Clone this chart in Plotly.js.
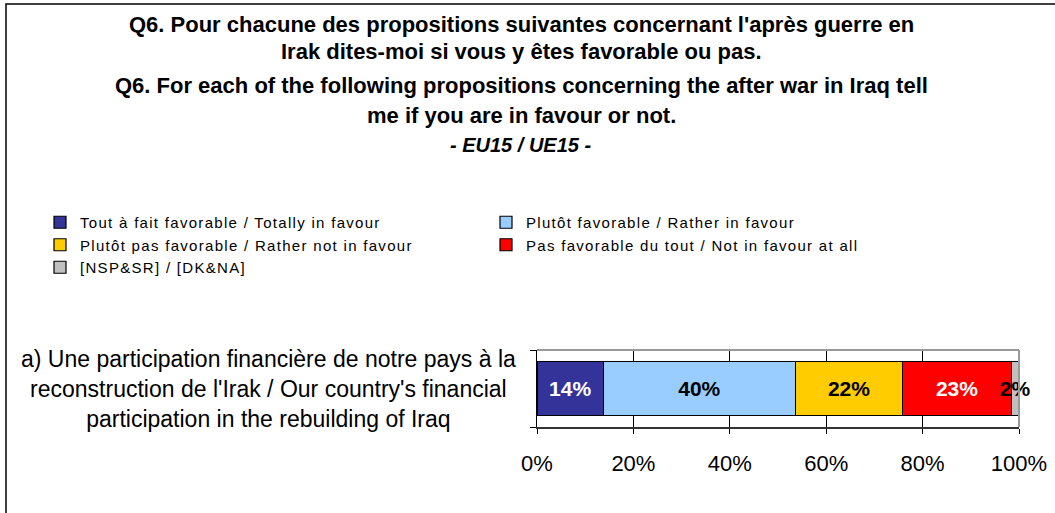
<!DOCTYPE html>
<html>
<head>
<meta charset="utf-8">
<script src="https://cdn.plot.ly/plotly-3.0.1.min.js"></script>
<style>
html,body{margin:0;padding:0;background:#fff;}
#chart{width:1055px;height:513px;}
#chart .legendtext{letter-spacing:1.3px;}
</style>
</head>
<body>
<div id="chart"></div>
<script>
const categories = ["a) Une participation financière de notre pays à la<br>reconstruction de l'Irak / Our country's financial<br>participation in the rebuilding of Iraq"];
const seriesNames = [
  "Tout à fait favorable / Totally in favour",
  "Plutôt favorable / Rather in favour",
  "Plutôt pas favorable / Rather not in favour",
  "Pas favorable du tout / Not in favour at all",
  "[NSP&SR] / [DK&NA]"
];
const seriesValues = [13.8, 39.8, 22.3, 22.5, 1.6];
const seriesLabels = ["14%", "40%", "22%", "23%", "2%"];
const seriesColors = ["#333399", "#99CCFF", "#FFCC00", "#FF0000", "#C0C0C0"];
const labelColors = ["#FFFFFF", "#000000", "#000000", "#FFFFFF", "#000000"];
const xTickVals = [0, 20, 40, 60, 80, 100];
const xTickText = ["0%", "20%", "40%", "60%", "80%", "100%"];
const titleLines = [
  "Q6. Pour chacune des propositions suivantes concernant l'après guerre en",
  "Irak dites-moi si vous y êtes favorable ou pas.",
  "Q6. For each of the following propositions concerning the after war in Iraq tell",
  "me if you are in favour or not.",
  "<i>- EU15 / UE15 -</i>"
];

// plot area geometry (pixels)
const L = 537, R = 1019, T = 350, B = 427;
const px = x => (x - L) / (R - L);
const py = y => (B - y) / (B - T);

const FONT = "Liberation Sans, Arial, sans-serif";

const traces = seriesNames.map((n, i) => ({
  type: "bar",
  orientation: "h",
  name: n,
  y: categories,
  x: [seriesValues[i]],
  text: [seriesLabels[i]],
  textposition: "inside",
  insidetextanchor: "middle",
  textangle: 0,
  constraintext: "none",
  cliponaxis: false,
  textfont: {family: FONT, size: 21, color: labelColors[i], weight: "bold"},
  marker: {color: seriesColors[i], line: {color: "#000", width: 1.2}},
  hoverinfo: "skip"
}));

const titleY = [24, 51, 85, 116, 145];
const annotations = titleLines.map((t, i) => ({
  xref: "paper", yref: "paper",
  x: px(521), y: py(titleY[i]),
  xanchor: "center", yanchor: "middle",
  text: "<b>" + t + "</b>",
  showarrow: false,
  font: {family: FONT, size: i === 4 ? 20 : 22, color: "#000"}
}));
annotations.push({
  xref: "paper", yref: "y",
  x: px(268), y: 0,
  xanchor: "center", yanchor: "middle",
  text: categories[0],
  align: "center",
  showarrow: false,
  font: {family: FONT, size: 23, color: "#000"}
});

const layout = {
  width: 1055, height: 513,
  margin: {l: L, r: 1055 - R, t: T, b: 513 - B, pad: 0},
  paper_bgcolor: "#fff",
  plot_bgcolor: "#fff",
  barmode: "stack",
  bargap: 0.29,
  showlegend: true,
  legend: {
    orientation: "h",
    x: px(40), y: py(206),
    xanchor: "left", yanchor: "top",
    entrywidth: 401, entrywidthmode: "pixels",
    traceorder: "normal",
    font: {family: FONT, size: 15, color: "#000"},
    bgcolor: "rgba(0,0,0,0)"
  },
  xaxis: {
    range: [0, 100],
    tickvals: xTickVals,
    ticktext: xTickText,
    showgrid: true, gridcolor: "#000", gridwidth: 1,
    zeroline: false,
    showline: true, linecolor: "#333", linewidth: 1.5,
    ticks: "outside", ticklen: 5, tickcolor: "#000",
    ticklabelstandoff: 11,
    tickfont: {family: FONT, size: 22, color: "#000"},
    fixedrange: true
  },
  yaxis: {
    type: "category",
    range: [-0.5, 0.5],
    tickson: "boundaries",
    ticks: "outside", ticklen: 6, tickcolor: "#000",
    showticklabels: false,
    showline: true, linecolor: "#000", linewidth: 1,
    showgrid: false, zeroline: false,
    fixedrange: true
  },
  annotations: annotations,
  shapes: [
    {type: "line", xref: "paper", yref: "paper", x0: 0, x1: 1, y0: 1, y1: 1, line: {color: "#999", width: 2}},
    {type: "line", xref: "paper", yref: "paper", x0: 1, x1: 1, y0: 0, y1: 1, line: {color: "#999", width: 2}},
    {type: "rect", xref: "paper", yref: "paper", x0: px(6), x1: px(1065), y0: py(4), y1: py(530), line: {color: "#000", width: 1.5}, fillcolor: "rgba(0,0,0,0)"}
  ]
};

Plotly.newPlot("chart", traces, layout, {displayModeBar: false, staticPlot: true});
</script>
</body>
</html>
